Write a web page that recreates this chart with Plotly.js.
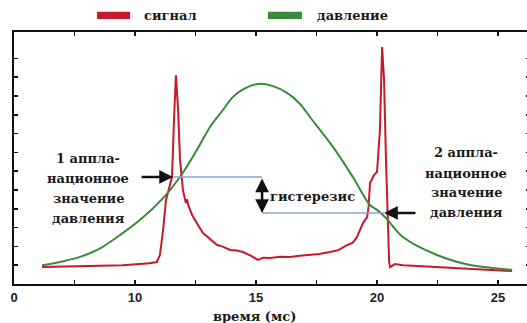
<!DOCTYPE html>
<html>
<head>
<meta charset="utf-8">
<script src="https://cdn.plot.ly/plotly-3.0.1.min.js"></script>
<style>
html,body{margin:0;padding:0;overflow:hidden;background:#fff;}
#chart{width:530px;height:323px;}
</style>
</head>
<body>
<div id="chart"></div>
<script>
// ---- data ----
var timeRed = [6.16, 7.0, 8.55, 9.5, 10.6, 10.9, 11.03, 11.16, 11.28, 11.4, 11.53, 11.61, 11.69, 11.78, 11.86, 11.98, 12.1, 12.15, 12.2, 12.36, 12.5, 12.6, 12.81, 13.0, 13.2, 13.39, 13.6, 13.93, 14.2, 14.46, 14.8, 15.08, 15.3, 15.58, 16.0, 16.4, 16.8, 17.23, 17.6, 18.06, 18.4, 18.76, 19.0, 19.17, 19.3, 19.42, 19.59, 19.65, 19.71, 19.88, 20.0, 20.12, 20.21, 20.29, 20.37, 20.45, 20.5, 20.54, 20.74, 21.07, 21.8, 22.48, 23.2, 23.84, 24.7, 25.58];
var signal  = [0.9, 0.92, 0.96, 1.0, 1.1, 1.17, 1.54, 2.87, 4.47, 5.1, 5.69, 8.7, 11.1, 9.26, 6.6, 5.0, 4.3, 4.5, 4.2, 3.67, 3.4, 3.14, 2.71, 2.5, 2.3, 2.07, 2.0, 1.81, 1.78, 1.7, 1.5, 1.28, 1.4, 1.38, 1.45, 1.44, 1.5, 1.54, 1.6, 1.7, 1.8, 2.07, 2.2, 2.5, 2.87, 3.24, 3.56, 4.1, 5.37, 5.8, 5.96, 8.19, 12.6, 10.85, 6.6, 2.3, 1.17, 0.9, 1.06, 1.0, 0.95, 0.9, 0.85, 0.8, 0.74, 0.69];

var timePressure = [6.16, 7.0, 7.73, 8.5, 9.09, 10.2, 11.16, 11.86, 12.5, 13.1, 13.6, 14.05, 14.5, 15.1, 15.7, 16.28, 16.8, 17.23, 18.18, 19.0, 19.71, 20.0, 20.41, 21.07, 22.48, 23.84, 25.2, 25.58];
var pressure     = [1.0, 1.2, 1.44, 1.85, 2.34, 3.4, 4.57, 5.69, 7.0, 8.35, 9.2, 9.95, 10.38, 10.64, 10.52, 10.16, 9.6, 8.88, 7.29, 5.69, 4.2, 3.94, 3.45, 2.5, 1.54, 1.01, 0.8, 0.74];

var xTickVals = [5, 7.5, 10, 12.5, 15, 17.5, 20, 22.5, 25];
var xTickText = ["0", "", "10", "", "15", "", "20", "", "25"];
var yTickVals = [1, 2, 3, 4, 5, 6, 7, 8, 9, 10, 11, 12];

var seriesNames = ["сигнал", "давление"];
var leftLines  = ["1 аппла-", "национное", "значение", "давления"];
var rightLines = ["2 аппла-", "национное", "значение", "давления"];
var hystLabel  = "гистерезис";
var xTitle     = "время (мс)";

// ---- styling ----
var RED = "#c8182e", GREEN = "#3a8a3a", BLUE = "#8aa6cc", INK = "#111";
var SERIF = "DejaVu Serif";
function sf(size) { return {family: SERIF, size: size || 13, color: "#1a1a1a", weight: "bold"}; }

var traces = [
  {x: timeRed, y: signal, mode: "lines", name: seriesNames[0], line: {color: RED, width: 2}},
  {x: timePressure, y: pressure, mode: "lines", name: seriesNames[1], line: {color: GREEN, width: 2, shape: "spline", smoothing: 1}}
];

var upperLevel = 5.69, lowerLevel = 3.78, hystX = 15.25;

var annotations = [
  {xref: "paper", yref: "paper", x: 0.248, y: 1.066, text: seriesNames[0], showarrow: false, xanchor: "left", yanchor: "middle", font: sf(13)},
  {xref: "paper", yref: "paper", x: 0.583, y: 1.066, text: seriesNames[1], showarrow: false, xanchor: "left", yanchor: "middle", font: sf(13)},
  {xref: "x", yref: "paper", x: 14.95, y: -0.127, text: xTitle, showarrow: false, xanchor: "center", yanchor: "middle", font: sf(13)},
  {x: 15.5, y: 4.63, text: hystLabel, showarrow: false, xanchor: "left", yanchor: "middle", font: sf(13)},
  {x: 11.57, y: upperLevel, ax: 10.21, ay: upperLevel, axref: "x", ayref: "y", text: "", showarrow: true, arrowhead: 2, arrowsize: 1.1, arrowwidth: 2.5, arrowcolor: INK},
  {x: 20.29, y: lowerLevel, ax: 21.65, ay: lowerLevel, axref: "x", ayref: "y", text: "", showarrow: true, arrowhead: 2, arrowsize: 1.1, arrowwidth: 2.5, arrowcolor: INK},
  {x: hystX, y: lowerLevel, ax: hystX, ay: upperLevel, axref: "x", ayref: "y", text: "", showarrow: true, arrowhead: 2, startarrowhead: 2, arrowside: "end+start", arrowsize: 1.1, startarrowsize: 1.1, arrowwidth: 2.5, arrowcolor: INK}
];
var leftY = [6.65, 5.6, 4.54, 3.48], rightY = [6.97, 5.9, 4.84, 3.78];
leftLines.forEach(function (t, i) {
  annotations.push({x: 8.06, y: leftY[i], text: t, showarrow: false, xanchor: "center", yanchor: "middle", font: sf(13)});
});
rightLines.forEach(function (t, i) {
  annotations.push({x: 23.68, y: rightY[i], text: t, showarrow: false, xanchor: "center", yanchor: "middle", font: sf(13)});
});

var layout = {
  width: 530, height: 323,
  margin: {l: 14, r: 0, t: 32, b: 39},
  paper_bgcolor: "#fff", plot_bgcolor: "#fff",
  showlegend: false,
  xaxis: {
    range: [5, 26.32], tickvals: xTickVals, ticktext: xTickText,
    ticks: "inside", ticklen: 4, tickwidth: 1.5, tickcolor: INK,
    showline: true, linewidth: 2, linecolor: INK, mirror: "ticks",
    showgrid: false, zeroline: false,
    tickfont: {family: "Liberation Sans", size: 13, color: "#222", weight: "bold"}
  },
  yaxis: {
    range: [0, 13.4], tickvals: yTickVals, showticklabels: false,
    ticks: "inside", ticklen: 4, tickwidth: 1.5, tickcolor: INK,
    showline: true, linewidth: 2, linecolor: INK, mirror: "ticks",
    showgrid: false, zeroline: false
  },
  shapes: [
    {type: "line", xref: "x", yref: "y", x0: 11.57, x1: hystX, y0: upperLevel, y1: upperLevel, line: {color: BLUE, width: 1.5}},
    {type: "line", xref: "x", yref: "y", x0: hystX, x1: 20.29, y0: lowerLevel, y1: lowerLevel, line: {color: BLUE, width: 1.5}},
    {type: "rect", xref: "paper", yref: "paper", x0: 0.161, x1: 0.225, y0: 1.052, y1: 1.08, fillcolor: RED, line: {width: 0}},
    {type: "rect", xref: "paper", yref: "paper", x0: 0.492, x1: 0.558, y0: 1.052, y1: 1.08, fillcolor: GREEN, line: {width: 0}}
  ],
  annotations: annotations
};

Plotly.newPlot("chart", traces, layout, {staticPlot: true, displayModeBar: false});
</script>
</body>
</html>
